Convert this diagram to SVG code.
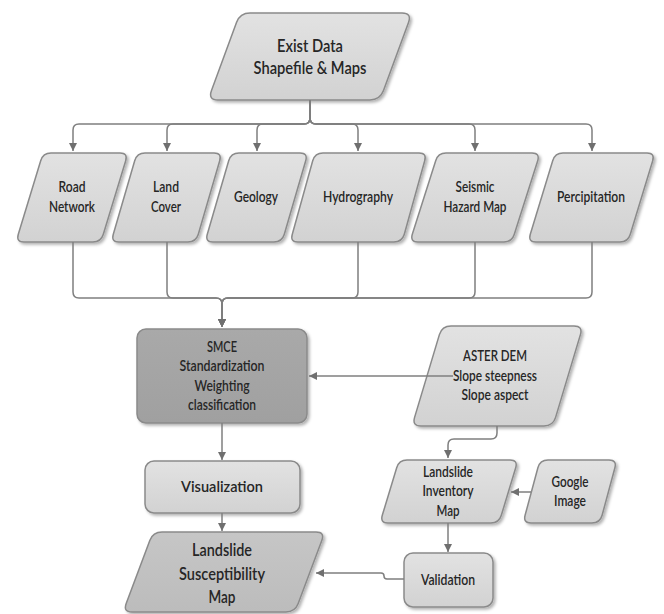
<svg xmlns="http://www.w3.org/2000/svg" width="664" height="614" viewBox="0 0 664 614">
<style>
  .node { fill: url(#lg); stroke: #8a8a8a; stroke-width: 1.5; filter: url(#sh); }
  .dark { fill: url(#dg); }
  .mid { fill: url(#mg); }
  .t { font-family: Lato, "Liberation Sans", sans-serif; font-weight: 600; fill: #262626; text-anchor: middle; }
  .s13 { font-size: 14.5px; }
  .s14 { font-size: 15px; }
  .s15 { font-size: 16px; }
  .s16 { font-size: 16.5px; }
  .c { fill: none; stroke: #7f7f7f; stroke-width: 1.5; }
  .a { marker-end: url(#ah); }
</style>
<defs>
  <linearGradient id="lg" x1="0" y1="0" x2="0" y2="1">
    <stop offset="0" stop-color="#e2e2e2"/>
    <stop offset="1" stop-color="#d2d2d2"/>
  </linearGradient>
  <linearGradient id="dg" x1="0" y1="0" x2="0" y2="1">
    <stop offset="0" stop-color="#a9a9a9"/>
    <stop offset="1" stop-color="#a0a0a0"/>
  </linearGradient>
  <linearGradient id="mg" x1="0" y1="0" x2="0" y2="1">
    <stop offset="0" stop-color="#c6c6c6"/>
    <stop offset="1" stop-color="#bcbcbc"/>
  </linearGradient>
  <filter id="sh" x="-10%" y="-10%" width="130%" height="130%">
    <feDropShadow dx="2" dy="2" stdDeviation="1.5" flood-color="#000" flood-opacity="0.3"/>
  </filter>
  <marker id="ah" viewBox="0 0 10 10" refX="10" refY="5" markerWidth="8" markerHeight="8" markerUnits="userSpaceOnUse" orient="auto">
    <path d="M0,0 L10,5 L0,10 Z" fill="#6f6f6f"/>
  </marker>
</defs>
<rect width="664" height="614" fill="#ffffff"/>

<g id="exist-data">
  <path class="node" d="M250,13 L402,13 Q412,13 408.5,22.4 L383.5,90.6 Q380,100 370,100 L218,100 Q208,100 211.5,90.6 L236.5,22.4 Q240,13 250,13 Z"/>
  <text class="t s16" x="310" y="52" textLength="66" lengthAdjust="spacingAndGlyphs">Exist Data</text>
  <text class="t s16" x="310" y="74" textLength="113" lengthAdjust="spacingAndGlyphs">Shapefile &amp;  Maps</text>
</g>

<g id="road-network">
  <path class="node" d="M51,153 L120,153 Q128,153 125.7,160.7 L103.3,234.3 Q101,242 93,242 L24,242 Q16,242 18.3,234.3 L40.7,160.7 Q43,153 51,153 Z"/>
  <text class="t s14" x="72" y="192" textLength="27" lengthAdjust="spacingAndGlyphs">Road</text>
  <text class="t s14" x="72" y="212" textLength="46" lengthAdjust="spacingAndGlyphs">Network</text>
</g>
<g id="land-cover">
  <path class="node" d="M145,153 L214,153 Q222,153 219.7,160.7 L198.3,234.3 Q196,242 188,242 L119,242 Q111,242 113.3,234.3 L134.7,160.7 Q137,153 145,153 Z"/>
  <text class="t s14" x="166" y="192" textLength="26" lengthAdjust="spacingAndGlyphs">Land</text>
  <text class="t s14" x="166" y="212" textLength="30" lengthAdjust="spacingAndGlyphs">Cover</text>
</g>
<g id="geology">
  <path class="node" d="M239,153 L300,153 Q308,153 305.7,160.7 L284.3,234.3 Q282,242 274,242 L213,242 Q205,242 207.3,234.3 L228.7,160.7 Q231,153 239,153 Z"/>
  <text class="t s14" x="256" y="202" textLength="44" lengthAdjust="spacingAndGlyphs">Geology</text>
</g>
<g id="hydrography">
  <path class="node" d="M323,153 L419,153 Q427,153 424.7,160.7 L404.3,234.3 Q402,242 394,242 L298,242 Q290,242 292.3,234.3 L312.7,160.7 Q315,153 323,153 Z"/>
  <text class="t s14" x="358" y="202" textLength="70" lengthAdjust="spacingAndGlyphs">Hydrography</text>
</g>
<g id="seismic-hazard-map">
  <path class="node" d="M446,153 L532,153 Q540,153 537.7,160.7 L514.3,234.3 Q512,242 504,242 L418,242 Q410,242 412.3,234.3 L435.7,160.7 Q438,153 446,153 Z"/>
  <text class="t s14" x="475" y="192" textLength="39" lengthAdjust="spacingAndGlyphs">Seismic</text>
  <text class="t s14" x="475" y="212" textLength="63" lengthAdjust="spacingAndGlyphs">Hazard Map</text>
</g>
<g id="percipitation">
  <path class="node" d="M563,153 L647,153 Q655,153 652.7,160.7 L630.3,234.3 Q628,242 620,242 L536,242 Q528,242 530.3,234.3 L552.7,160.7 Q555,153 563,153 Z"/>
  <text class="t s14" x="591" y="202" textLength="68" lengthAdjust="spacingAndGlyphs">Percipitation</text>
</g>

<g id="smce">
  <rect class="node dark" x="137" y="329" width="170" height="94" rx="9"/>
  <text class="t s14" x="222" y="352" textLength="30" lengthAdjust="spacingAndGlyphs">SMCE</text>
  <text class="t s14" x="222" y="371" textLength="85" lengthAdjust="spacingAndGlyphs">Standardization</text>
  <text class="t s14" x="222" y="391" textLength="55" lengthAdjust="spacingAndGlyphs">Weighting</text>
  <text class="t s14" x="222" y="410" textLength="68" lengthAdjust="spacingAndGlyphs">classification</text>
</g>

<g id="aster-dem">
  <path class="node" d="M451,326 L574,326 Q583,326 580.4,334.6 L555.6,417.4 Q553,426 544,426 L421,426 Q412,426 414.6,417.4 L439.4,334.6 Q442,326 451,326 Z"/>
  <text class="t s14" x="495" y="361" textLength="64" lengthAdjust="spacingAndGlyphs">ASTER DEM</text>
  <text class="t s14" x="495" y="381" textLength="84" lengthAdjust="spacingAndGlyphs">Slope steepness</text>
  <text class="t s14" x="495" y="400" textLength="67" lengthAdjust="spacingAndGlyphs">Slope aspect</text>
</g>

<g id="visualization">
  <rect class="node" x="145" y="461" width="155" height="52" rx="9"/>
  <text class="t s15" x="222" y="492" textLength="82" lengthAdjust="spacingAndGlyphs">Visualization</text>
</g>

<g id="landslide-susceptibility-map">
  <path class="node mid" d="M162,532 L316,532 Q325,532 321.8,540.4 L298.2,603.6 Q295,612 286,612 L132,612 Q123,612 126.2,603.6 L149.8,540.4 Q153,532 162,532 Z"/>
  <text class="t s16" x="222" y="556" textLength="60" lengthAdjust="spacingAndGlyphs">Landslide</text>
  <text class="t s16" x="222" y="580" textLength="86" lengthAdjust="spacingAndGlyphs">Susceptibility</text>
  <text class="t s16" x="222" y="603" textLength="27" lengthAdjust="spacingAndGlyphs">Map</text>
</g>

<g id="landslide-inventory-map">
  <path class="node" d="M407,460 L510,460 Q518,460 515.7,467.7 L501.3,515.3 Q499,523 491,523 L388,523 Q380,523 382.3,515.3 L396.7,467.7 Q399,460 407,460 Z"/>
  <text class="t s13" x="448" y="477" textLength="50" lengthAdjust="spacingAndGlyphs">Landslide</text>
  <text class="t s13" x="448" y="496" textLength="51" lengthAdjust="spacingAndGlyphs">Inventory</text>
  <text class="t s13" x="448" y="516" textLength="23" lengthAdjust="spacingAndGlyphs">Map</text>
</g>

<g id="google-image">
  <path class="node" d="M548,460 L609,460 Q617,460 614.9,467.7 L602.1,515.3 Q600,523 592,523 L531,523 Q523,523 525.1,515.3 L537.9,467.7 Q540,460 548,460 Z"/>
  <text class="t s13" x="570" y="487" textLength="37" lengthAdjust="spacingAndGlyphs">Google</text>
  <text class="t s13" x="570" y="506" textLength="32" lengthAdjust="spacingAndGlyphs">Image</text>
</g>

<g id="validation">
  <rect class="node" x="404" y="553" width="89" height="54" rx="9"/>
  <text class="t s14" x="448" y="585" textLength="54" lengthAdjust="spacingAndGlyphs">Validation</text>
</g>

<g id="connectors">
  <path class="c a" d="M310,100 V118 Q310,124 304,124 H79 Q73,124 73,130 V151"/>
  <path class="c a" d="M310,100 V118 Q310,124 304,124 H173 Q167,124 167,130 V151"/>
  <path class="c a" d="M310,100 V118 Q310,124 304,124 H263 Q257,124 257,130 V151"/>
  <path class="c a" d="M310,100 V118 Q310,124 316,124 H352 Q358,124 358,130 V151"/>
  <path class="c a" d="M310,100 V118 Q310,124 316,124 H469 Q475,124 475,130 V151"/>
  <path class="c a" d="M310,100 V118 Q310,124 316,124 H586 Q592,124 592,130 V151"/>

  <path class="c a" d="M73,242 V292 Q73,298 79,298 H216 Q222,298 222,304 V327"/>
  <path class="c a" d="M167,242 V292 Q167,298 173,298 H216 Q222,298 222,304 V327"/>
  <path class="c a" d="M358,242 V292 Q358,298 352,298 H228 Q222,298 222,304 V327"/>
  <path class="c a" d="M475,242 V292 Q475,298 469,298 H228 Q222,298 222,304 V327"/>
  <path class="c a" d="M592,242 V292 Q592,298 586,298 H228 Q222,298 222,304 V327"/>

  <path class="c a" d="M453,376 H309"/>
  <path class="c a" d="M497,426 V433 Q497,439 491,439 H454 Q448,439 448,445 V458"/>
  <path class="c a" d="M531,492 H511"/>
  <path class="c a" d="M448,523 V552"/>
  <path class="c a" d="M222,423 V460"/>
  <path class="c a" d="M222,513 V531"/>
  <path class="c a" d="M404,579 H387 Q384,579 384,576 Q384,573 381,573 H316"/>
</g>
</svg>
